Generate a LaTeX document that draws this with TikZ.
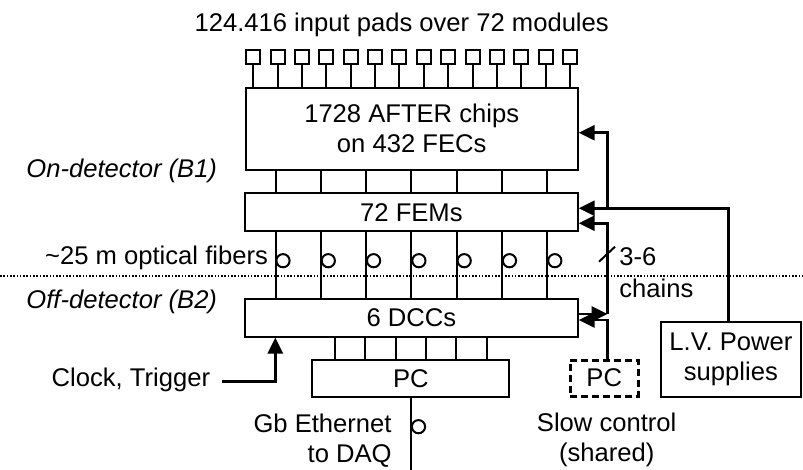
\documentclass[tikz,border=0pt]{standalone}
\usepackage{fontspec}
\setmainfont{Liberation Sans}
\usetikzlibrary{arrows.meta}

\tikzset{
  box/.style={draw, line width=1pt, align=center, inner sep=0pt},
  pad/.style={draw, line width=1pt, minimum size=7pt, inner sep=0pt},
  fiber/.style={draw, line width=1pt, circle, minimum size=6.6pt, inner sep=0pt},
  wire/.style={line width=1pt},
  feed/.style={line width=1.4pt, -{Triangle[length=8pt,width=7.5pt]}},
  label/.style={inner sep=0pt}
}

\begin{document}
\begin{tikzpicture}[x=0.5pt, y=-0.5pt, font=\fontsize{12.8}{15}\selectfont]
  \useasboundingbox (0,0) rectangle (803,470);

  % Title and input pads
  \node[label] (title) at (401.7,25) {124.416 input pads over 72 modules};
  \foreach \i in {1,...,14} {
    \node[pad] (pad\i) at ({253.2+24.38*(\i-1)},57.5) {};
  }

  % Electronics chain
  \node[box, minimum width=166pt, minimum height=41.2pt] (after) at (411.7,128.8) {1728 AFTER chips\\on 432 FECs};
  \node[box, minimum width=166.3pt, minimum height=18.8pt] (fem) at (411.4,212.2) {72 FEMs};
  \node[box, minimum width=166.3pt, minimum height=18.8pt] (dcc) at (411.4,317.8) {6 DCCs};
  \node[box, minimum width=98.5pt, minimum height=18.6pt] (pc) at (410.8,378.7) {PC};
  \node[box, line width=1.5pt, dash pattern=on 3.5pt off 2pt, minimum width=34pt, minimum height=18pt] (scpc) at (604.2,378) {PC};
  \node[box, minimum width=70.2pt, minimum height=37.8pt] (lv) at (730.9,359.5) {L.V. Power\\supplies};

  % Pads to AFTER chips
  \foreach \i in {1,...,14} {
    \draw[wire] (pad\i.south) -- (pad\i.south |- after.north);
  }

  % FEC links and optical fibers
  \foreach \x [count=\k] in {275.5,320.8,366.1,411.4,456.7,502.0,547.3} {
    \draw[wire] (\x,0 |- after.south) -- (\x,0 |- fem.north);
    \draw[wire] (\x,0 |- fem.south) -- (\x,0 |- dcc.north);
    \node[fiber] (fib\k) at (\x+7.5,260.7) {};
  }

  % DCCs to PC
  \foreach \x in {335.0,365.3,395.6,425.9,456.2,486.5} {
    \draw[wire] (\x,0 |- dcc.south) -- (\x,0 |- pc.north);
  }

  % Detector boundary
  \coordinate (bleft) at (0,276.5);
  \coordinate (bright) at (803,276.5);
  \draw[line width=1pt, dash pattern=on 0.8pt off 0.85pt] (bleft) -- (bright);
  \node[label, anchor=west, font=\fontsize{12.8}{15}\selectfont\itshape] (ondet) at (26,170.5) {On-detector (B1)};
  \node[label, anchor=west, font=\fontsize{12.8}{15}\selectfont\itshape] (offdet) at (26,302) {Off-detector (B2)};
  \node[label, anchor=east] (fibers) at (268.3,258) {\textasciitilde25 m optical fibers};

  % Low voltage
  \draw[feed] (728.3,0 |- lv.north) |- (fem.east |- 0,208.3);
  \draw[feed] (607.7,208.3) |- (after.east |- 0,132.7);

  % Slow control chains
  \draw[feed] (dcc.east |- 0,314) -- (607.5,314);
  \draw[feed] (607.5,314) |- (fem.east |- 0,223.3);
  \draw[feed] (607.5,0 |- scpc.north) |- (dcc.east |- 0,320);
  \draw[wire] (599,261.7) -- (615,246.7);
  \node[label, anchor=west] (chains) at (619,257) {3-6};
  \node[label, anchor=west] (chains2) at (619,288.5) {chains};
  \node[label, align=center] (slow) at (606.7,439.5) {Slow control\\(shared)};

  % Clock and trigger
  \node[label, anchor=east] (clock) at (210.5,380) {Clock, Trigger};
  \draw[feed] (221.7,381.7) -| (275.3,0 |- dcc.south);

  % Ethernet to DAQ
  \coordinate (daq) at (411,470);
  \draw[wire] (411,0 |- pc.south) -- (daq);
  \node[fiber] (eth) at (418.5,426.7) {};
  \node[label, align=right, anchor=east] (ethlab) at (392,440.5) {Gb Ethernet\\to DAQ};
\end{tikzpicture}
\end{document}
